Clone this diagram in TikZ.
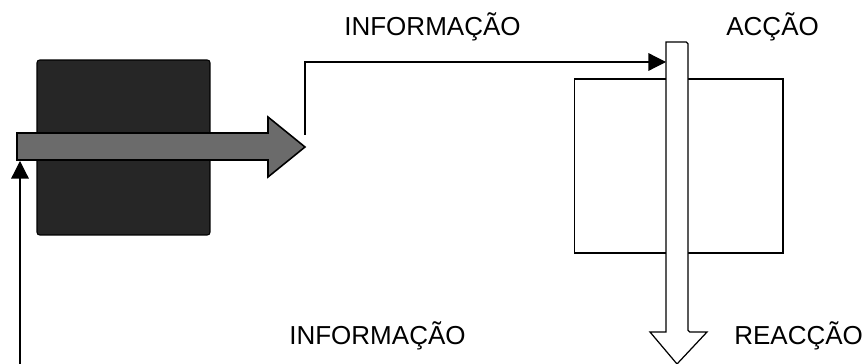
\documentclass[tikz,border=0pt]{standalone}
\usepackage{fontspec}
\setmainfont{Liberation Sans}
\usetikzlibrary{arrows.meta}

\begin{document}
\begin{tikzpicture}[x=0.02cm,y=-0.02cm,
	caption/.style={font=\fontsize{14.8}{16}\selectfont, inner sep=0pt, anchor=base west},
	link/.style={line width=0.7pt, -{Triangle[length=10pt,width=10pt]}}]
	\useasboundingbox (0,0) rectangle (862,364);

	% dark block with the grey flow arrow through it
	\node[draw, fill=black!85, line width=0.6pt, rounded corners=1.5pt,
		minimum width=3.46cm, minimum height=3.5cm, inner sep=0pt] (sistema) at (123.5,147.5) {};
	\filldraw[fill=black!58, line width=0.9pt]
		(17,133) -- (268,133) -- (268,117) -- (305,147) -- (268,177) -- (268,160) -- (17,160) -- cycle;
	\coordinate (entrada) at (20,161);
	\coordinate (saida) at (305,135);

	% white block with the action arrow going down through it
	\node[draw, fill=white, line width=0.6pt,
		minimum width=4.18cm, minimum height=3.48cm, inner sep=0pt] (meio) at (678.5,166) {};
	\filldraw[fill=white, line width=0.7pt, rounded corners=1pt]
		(666,42) -- (688,42) -- (688,332) [sharp corners] -- (707,332) -- (677,364) -- (650,332) -- (666,332) -- cycle;
	\coordinate (accao) at (666,62);
	\coordinate (fundo) at (20,364);

	% links
	\draw[link] (saida) |- (accao);
	\draw[link] (fundo) -- (entrada);

	% texts
	\node[caption] (info1) at (344,36) {INFORMAÇÃO};
	\node[caption] (acao) at (726,36) {ACÇÃO};
	\node[caption] (info2) at (289,345) {INFORMAÇÃO};
	\node[caption] (reacao) at (734,345) {REACÇÃO};
\end{tikzpicture}
\end{document}
